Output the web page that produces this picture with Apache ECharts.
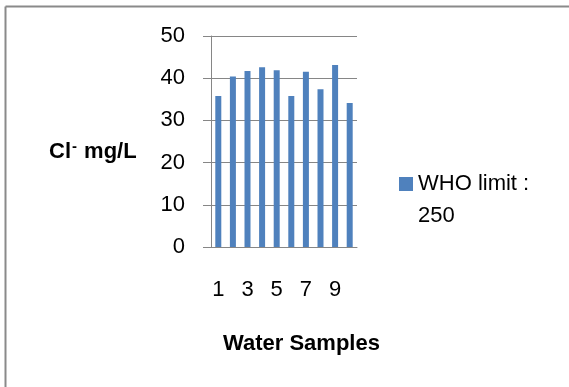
<!DOCTYPE html>
<html>
<head>
<meta charset="utf-8">
<script src="https://cdn.jsdelivr.net/npm/echarts@6/dist/echarts.min.js"></script>
<style>
  html, body { margin: 0; padding: 0; background: #fff; }
  #chart { width: 569px; height: 387px; }
</style>
</head>
<body>
<div id="chart"></div>
<script>
// sample numbers and chloride values (mg/L)
var samples = ["1", "2", "3", "4", "5", "6", "7", "8", "9", "10"];
var chloride = [35.8, 40.4, 41.7, 42.6, 41.9, 35.8, 41.5, 37.4, 43.1, 34.1];
var seriesName = "WHO limit : 250";
var yTicks = { min: 0, max: 50, interval: 10 };

var chart = echarts.init(document.getElementById("chart"));
var gray = "#868686";
var font = "Liberation Sans";

var option = {
    animation: false,
    backgroundColor: "#fff",
    grid: { left: 211, right: 212, top: 36, bottom: 140 },
    title: [
        { text: "Cl{s|-} mg/L", left: 44, top: 134,
          textStyle: { fontFamily: font, fontSize: 22, fontWeight: "bold", color: "#000",
                       rich: { s: { fontFamily: font, fontSize: 15, fontWeight: "bold",
                                    verticalAlign: "top", padding: [0, 1, 10, 1] } } } },
        { text: "Water Samples", left: 218, top: 328,
          textStyle: { fontFamily: font, fontSize: 22, fontWeight: "bold", color: "#000" } }
    ],
    legend: {
        left: 399,
        top: 136,
        padding: 0,
        icon: "rect",
        itemWidth: 14,
        itemHeight: 14,
        itemGap: 0,
        formatter: function () { return "\nWHO limit :\n250"; },
        textStyle: { fontFamily: font, fontSize: 22, color: "#000", lineHeight: 32 },
        data: [seriesName]
    },
    xAxis: {
        type: "category",
        data: samples,
        axisLine: { lineStyle: { color: gray, width: 1 } },
        axisTick: { length: 8, lineStyle: { color: gray } },
        axisLabel: { interval: 1, margin: 32, fontFamily: font, fontSize: 22, color: "#000" }
    },
    yAxis: {
        type: "value",
        min: yTicks.min, max: yTicks.max, interval: yTicks.interval,
        axisLine: { show: true, lineStyle: { color: gray, width: 1 } },
        axisTick: { show: true, length: 8, lineStyle: { color: gray } },
        splitLine: { lineStyle: { color: gray, width: 1 } },
        axisLabel: { margin: 26, fontFamily: font, fontSize: 22, color: "#000" }
    },
    series: [{
        name: seriesName,
        type: "bar",
        barWidth: 6,
        itemStyle: { color: "#4F81BD" },
        data: chloride
    }],
    graphic: [
        { type: "line", shape: { x1: 5.5, y1: 6.5, x2: 569, y2: 6.5 },
          style: { stroke: "#8a8a8a", lineWidth: 2 } },
        { type: "line", shape: { x1: 5.5, y1: 6.5, x2: 5.5, y2: 387 },
          style: { stroke: "#8a8a8a", lineWidth: 2 } }
    ]
};
chart.setOption(option);
</script>
</body>
</html>
